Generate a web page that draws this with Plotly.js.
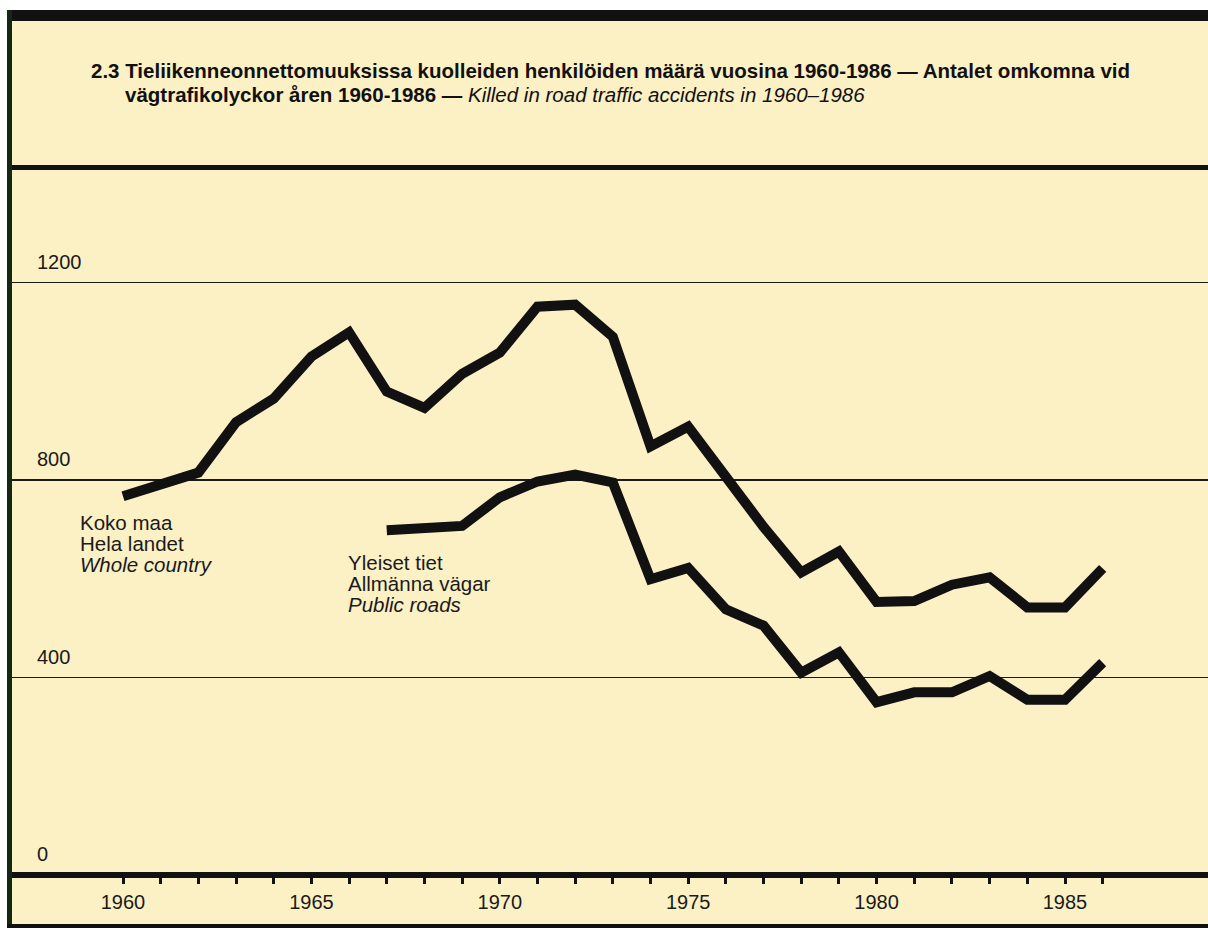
<!DOCTYPE html>
<html>
<head>
<meta charset="utf-8">
<script src="https://cdn.plot.ly/plotly-3.0.1.min.js"></script>
<style>
  html, body { margin: 0; padding: 0; background: #fcf0c5; overflow: hidden; }
  #chart { width: 1208px; height: 928px; }
</style>
</head>
<body>
<div id="chart"></div>
<script>
// ---- Data ----
const years = [1960,1961,1962,1963,1964,1965,1966,1967,1968,1969,1970,1971,1972,1973,1974,1975,1976,1977,1978,1979,1980,1981,1982,1983,1984,1985,1986];
const wholeCountry = [767,791,815,917,965,1050,1099,979,946,1015,1058,1151,1155,1090,868,908,805,705,613,655,553,555,588,603,542,542,621];

const publicRoadYears = [1967,1968,1969,1970,1971,1972,1973,1974,1975,1976,1977,1978,1979,1980,1981,1982,1983,1984,1985,1986];
const publicRoads = [698,702,707,765,797,811,795,599,622,538,505,410,451,350,370,370,403,355,355,430];

const xTickVals = years;
const xTickText = years.map(y => (y % 5 === 0 ? String(y) : ''));
const yTickVals = [0, 400, 800, 1200];
const yTickText = ['0', '400', '800', '1200'];

const titleLine1 = '<b>2.3 Tieliikenneonnettomuuksissa kuolleiden henkilöiden määrä vuosina 1960-1986 — Antalet omkomna vid</b>';
const titleLine2 = '<b>vägtrafikolyckor åren 1960-1986 —</b> <i>Killed in road traffic accidents in 1960–1986</i>';
const wholeCountryLabel = ['Koko maa', 'Hela landet', '<i>Whole country</i>'];
const publicRoadsLabel = ['Yleiset tiet', 'Allmänna vägar', '<i>Public roads</i>'];

// ---- Layout geometry (pixels) ----
const W = 1208, H = 928;
const ML = 12, MR = 0, MT = 170, MB = 53;
const plotW = W - ML - MR, plotH = H - MT - MB;
const px = x => (x - ML) / plotW;          // page px -> paper x
const py = y => (H - MB - y) / plotH;      // page px -> paper y

const BG = '#fcf0c5';
const INK = '#111111';
const FONT = '"Liberation Sans", Arial, Helvetica, sans-serif';

const xPerYear = 37.68;
const x0 = 1960 - (123 - ML) / xPerYear;
const x1 = x0 + plotW / xPerYear;
const yTop = plotH / 197.5 * 400;

const lineStyle = { color: INK, width: 10, shape: 'linear' };

const traces = [
  { x: years, y: wholeCountry, type: 'scatter', mode: 'lines', line: lineStyle, name: 'Whole country', hoverinfo: 'x+y' },
  { x: publicRoadYears, y: publicRoads, type: 'scatter', mode: 'lines', line: lineStyle, name: 'Public roads', hoverinfo: 'x+y' }
];

function labelAnns(lines, xPx, yPxList) {
  return lines.map((t, i) => ({
    xref: 'paper', yref: 'paper', x: px(xPx), y: py(yPxList[i]),
    xanchor: 'left', yanchor: 'middle', showarrow: false, text: t,
    font: { family: FONT, size: 20.5, color: '#1a1a1a' }
  }));
}

const annotations = [
  { xref: 'paper', yref: 'paper', x: px(89), y: py(70), xanchor: 'left', yanchor: 'middle', showarrow: false,
    text: titleLine1, font: { family: FONT, size: 20.5, color: '#111' } },
  { xref: 'paper', yref: 'paper', x: px(123), y: py(94), xanchor: 'left', yanchor: 'middle', showarrow: false,
    text: titleLine2, font: { family: FONT, size: 20.5, color: '#111' } }
].concat(labelAnns(wholeCountryLabel, 78, [522, 543, 564]))
 .concat(labelAnns(publicRoadsLabel, 346, [562, 583, 604]));

const rect = (xa, ya, xb, yb, color) => ({
  type: 'rect', xref: 'paper', yref: 'paper', x0: px(xa), x1: px(xb), y0: py(ya), y1: py(yb),
  fillcolor: color, line: { width: 0 }, layer: 'above'
});

const shapes = [
  rect(0, 0, W, 10, '#ffffff'),       // white top strip
  rect(0, 0, 7, H, '#ffffff'),        // white left strip
  rect(7, 10, W, 21, INK),            // top black band
  rect(7, 10, 12, H, '#142814'),      // left border
  rect(12, 165, W, 170, INK),         // rule under title
  rect(12, 872, W, 878, INK),         // bottom axis bar
  rect(7, 924, W, H, INK)             // bottom border
];

const layout = {
  width: W, height: H,
  margin: { l: ML, r: MR, t: MT, b: MB, pad: 0 },
  paper_bgcolor: BG, plot_bgcolor: BG,
  showlegend: false,
  xaxis: {
    range: [x0, x1], fixedrange: true,
    tickmode: 'array', tickvals: xTickVals, ticktext: xTickText,
    ticks: 'outside', ticklen: 8, tickwidth: 3, tickcolor: INK,
    showgrid: false, zeroline: false, showline: false,
    ticklabelstandoff: 1,
    tickfont: { family: FONT, size: 20, color: '#1a1a1a' }
  },
  yaxis: {
    range: [0, yTop], fixedrange: true,
    tickmode: 'array', tickvals: yTickVals, ticktext: yTickText,
    ticks: '', showgrid: true, gridcolor: '#1a1a1a', gridwidth: 1.5,
    zeroline: false, showline: false,
    ticklabelposition: 'inside top', ticklabelstandoff: 22, ticklabelshift: -7,
    tickfont: { family: FONT, size: 20, color: '#1a1a1a' }
  },
  annotations: annotations,
  shapes: shapes
};

Plotly.newPlot('chart', traces, layout, { displayModeBar: false, staticPlot: true });
</script>
</body>
</html>
